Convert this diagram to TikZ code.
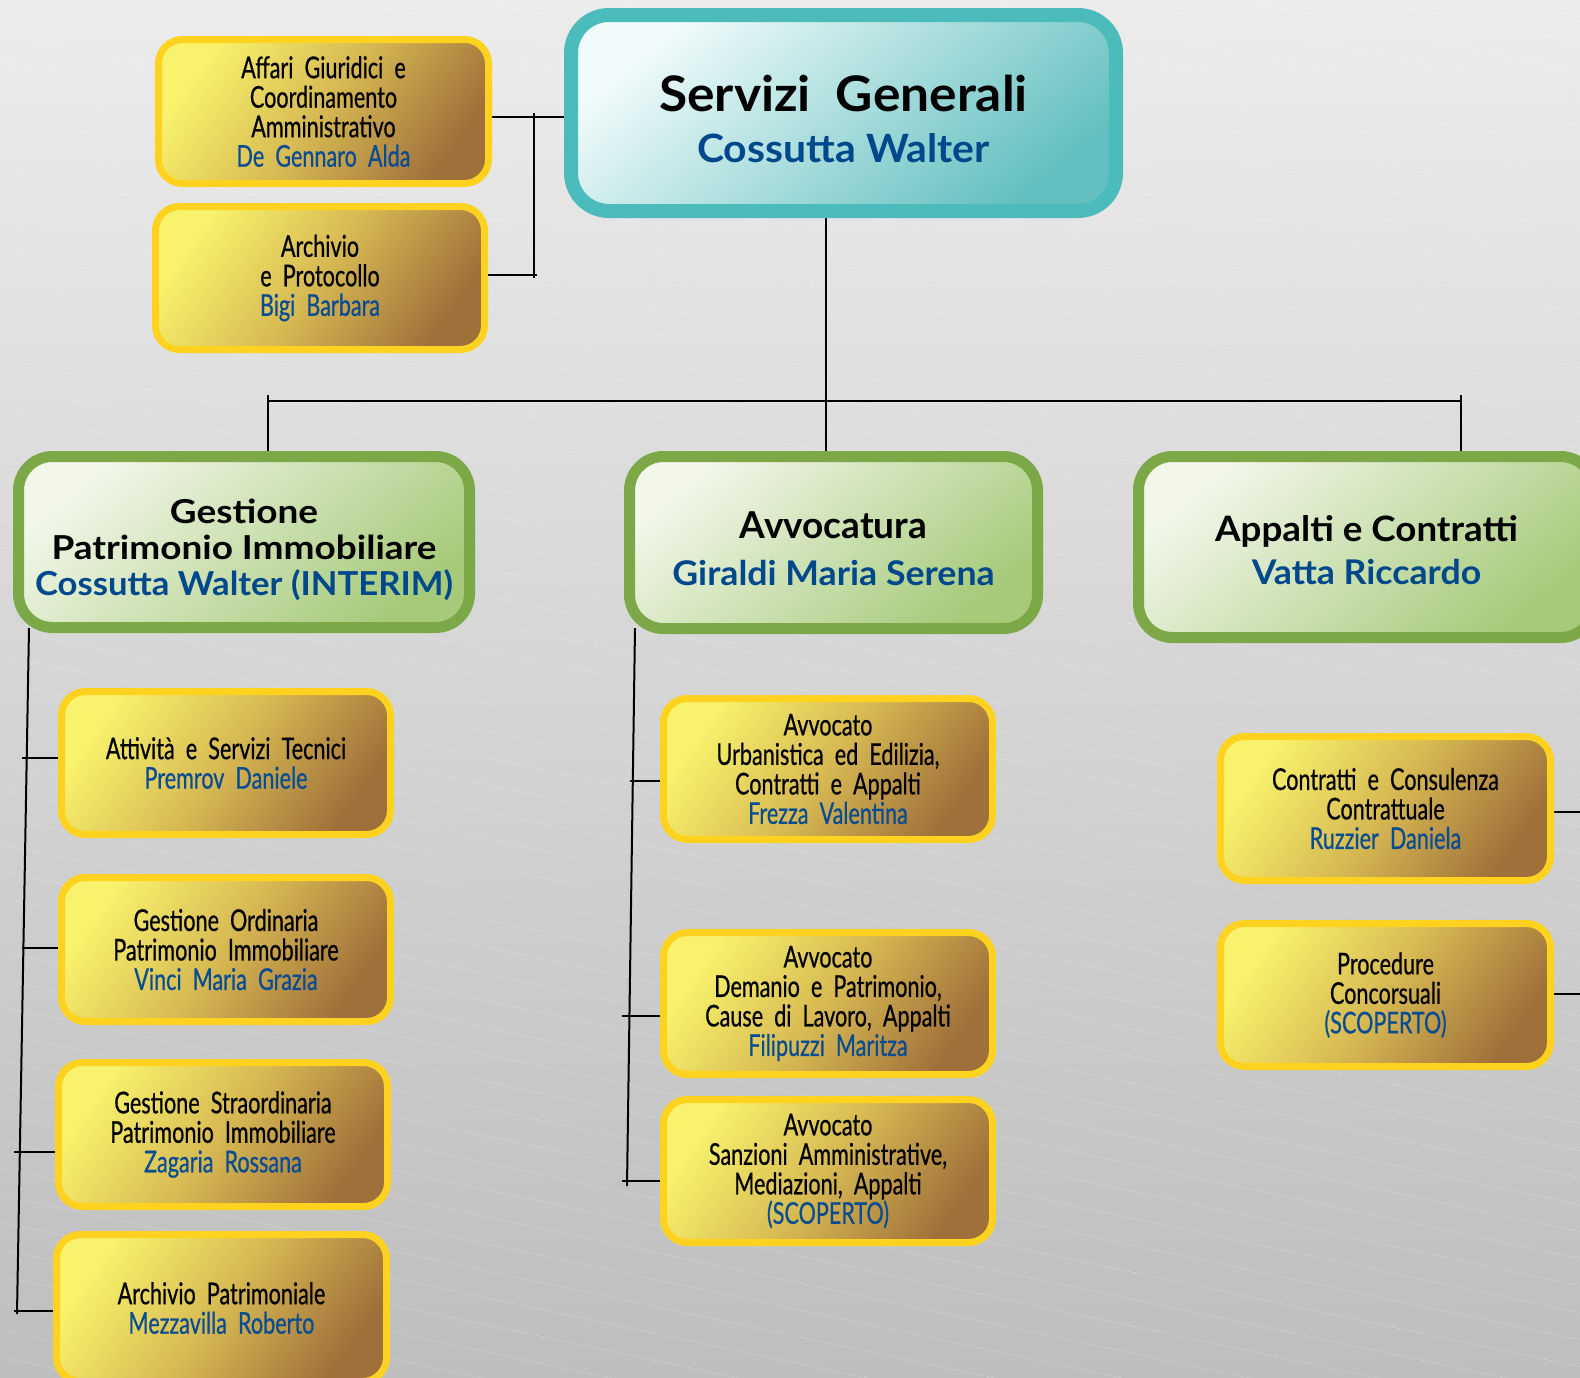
\documentclass[tikz,border=0pt]{standalone}
\usepackage{fontspec}
\setmainfont{Lato}
\newfontfamily\condf{Lato}[FakeStretch=0.72,WordSpace=2.0,FakeBold=0.6]
\newfontfamily\hdf{Lato}
\newfontfamily\hdn{Lato}[FakeStretch=1.05]
\newfontfamily\hdw{Lato}[FakeStretch=1.12]
\definecolor{bgTop}{RGB}{236,236,236}
\definecolor{bgBot}{RGB}{190,190,190}
\definecolor{tBord}{RGB}{75,187,187}
\definecolor{tA}{RGB}{242,251,251}
\definecolor{tB}{RGB}{100,192,192}
\definecolor{gBord}{RGB}{124,168,72}
\definecolor{gA}{RGB}{242,247,234}
\definecolor{gB}{RGB}{166,202,122}
\definecolor{yBord}{RGB}{255,210,32}
\definecolor{yA}{RGB}{248,242,108}
\definecolor{yM}{RGB}{214,184,82}
\definecolor{yB}{RGB}{160,112,58}
\definecolor{nblue}{RGB}{8,76,146}
\definecolor{hblue}{RGB}{0,72,140}
\newcommand\pname[1]{\textcolor{nblue}{#1}}
\newcommand\hname[1]{\textcolor{hblue}{#1}}
\newcommand\strt[1]{\rule{0pt}{#1}}
\pgfdeclarelayer{bgl}
\pgfdeclarelayer{lines}
\pgfsetlayers{bgl,lines,main}
\tikzset{
  ybox/.style={draw=yBord, line width=7pt, rounded corners=24pt,
    top color=yA, bottom color=yB, middle color=yM, shading angle=55,
    inner sep=0pt, minimum width=329pt, minimum height=143pt, align=center,
    font=\condf\fontsize{30}{29.5}\selectfont},
  gbox/.style={draw=gBord, line width=11pt, rounded corners=34pt,
    top color=gA, bottom color=gB, shading angle=40,
    inner sep=0pt, align=center},
  tbox/.style={draw=tBord, line width=14pt, rounded corners=38pt,
    top color=tA, bottom color=tB, shading angle=40,
    inner sep=0pt, align=center},
  conn/.style={line width=2pt, black},
  stripe/.style={white, opacity=0.28, line width=0.8pt, dash pattern=on 3pt off 2pt}
}
\begin{document}
\begin{tikzpicture}[x=1pt,y=-1pt]
\useasboundingbox (0,0) rectangle (1580,1377);
\clip (0,0) rectangle (1580,1377);
\begin{pgfonlayer}{bgl}
  \fill[top color=bgTop, bottom color=bgBot] (0,0) rectangle (1580,1377);
  \foreach \k in {0,...,80} {
    \draw[stripe] (-100,{\k*27-500}) -- (1700,{\k*27-500+380});
  }
\end{pgfonlayer}

% top
\node[tbox, minimum width=545pt, minimum height=196pt,
  font=\hdn\bfseries\fontsize{49}{51}\selectfont] (sg) at (843.5,113)
  {\strt{49pt}Servizi\ \ Generali\\
   {\fontsize{39}{51}\selectfont\hname{Cossutta Walter}}};

\node[ybox, minimum width=330pt, minimum height=144pt] (aff) at (323.5,111.5)
  {Affari Giuridici e\\Coordinamento\\Amministrativo\\\pname{De Gennaro Alda}};
\node[ybox, minimum width=329pt, minimum height=143pt] (arc) at (320,278)
  {Archivio\\e Protocollo\\\pname{Bigi Barbara}};

% green
\node[gbox, minimum width=451pt, minimum height=171pt,
  font=\hdw\bfseries\fontsize{33}{36}\selectfont] (gpi) at (244,542)
  {\strt{40pt}Gestione\\
   Patrimonio Immobiliare\\
   {\hdn\bfseries\fontsize{33}{36}\selectfont\hname{Cossutta Walter (INTERIM)}}};
\node[gbox, minimum width=408pt, minimum height=172pt,
  font=\hdf\bfseries\fontsize{37}{47}\selectfont] (avv) at (833.5,542.5)
  {\strt{38.5pt}Avvocatura\\
   {\hdn\bfseries\fontsize{34}{47}\selectfont\hname{Giraldi Maria Serena}}};
\node[gbox, minimum width=456pt, minimum height=181pt,
  font=\hdn\bfseries\fontsize{35}{43}\selectfont] (app) at (1366.5,547)
  {\strt{31.5pt}Appalti e Contratti\\
   {\fontsize{34}{43}\selectfont\hname{Vatta Riccardo}}};

% yellow left column
\node[ybox] (att) at (226,763)
  {Attività e Servizi Tecnici\\\pname{Premrov Daniele}};
\node[ybox, minimum height=144pt] (gor) at (226,949.5)
  {Gestione Ordinaria\\Patrimonio Immobiliare\\\pname{Vinci Maria Grazia}};
\node[ybox, minimum height=144pt] (gst) at (223,1134.5)
  {Gestione Straordinaria\\Patrimonio Immobiliare\\\pname{Zagaria Rossana}};
\node[ybox, minimum width=330pt, minimum height=147pt] (apa) at (221.5,1308)
  {Archivio Patrimoniale\\\pname{Mezzavilla Roberto}};

% yellow middle column
\node[ybox, minimum height=141pt] (av1) at (828,769)
  {Avvocato\\Urbanistica ed Edilizia,\\Contratti e Appalti\\\pname{Frezza Valentina}};
\node[ybox, minimum height=142pt] (av2) at (828,1003.5)
  {Avvocato\\Demanio e Patrimonio,\\Cause di Lavoro, Appalti\\\pname{Filipuzzi Maritza}};
\node[ybox] (av3) at (828,1171)
  {Avvocato\\Sanzioni Amministrative,\\Mediazioni, Appalti\\\pname{(SCOPERTO)}};

% yellow right column
\node[ybox, minimum width=330pt, minimum height=144pt] (cc) at (1385.5,808.5)
  {Contratti e Consulenza\\Contrattuale\\\pname{Ruzzier Daniela}};
\node[ybox, minimum width=330pt] (pc) at (1385.5,995)
  {Procedure\\Concorsuali\\\pname{(SCOPERTO)}};

% connectors
\coordinate (bL) at (268,401);
\coordinate (bM) at (826,401);
\coordinate (bR) at (1461,401);
\coordinate (jA) at (534,117);
\coordinate (jB) at (534,275);
\coordinate (gTop) at (29,628);
\coordinate (gBot) at (17,1314);
\coordinate (t1) at (22,758);
\coordinate (t2) at (22,948);
\coordinate (t3) at (14,1152);
\coordinate (t4) at (14,1311);
\coordinate (vTop) at (635,628);
\coordinate (vBot) at (627,1186);
\coordinate (u1) at (630,781);
\coordinate (u2) at (622,1016);
\coordinate (u3) at (622,1181);
\coordinate (r1) at (1582,812);
\coordinate (r2) at (1582,994);
\begin{pgfonlayer}{lines}
  \draw[conn] (sg.south -| bM) -- (bM);
  \draw[conn] (bL) -- (bR);
  \draw[conn] ([yshift=6pt]bL) -- (bL |- gpi.north);
  \draw[conn] (bM) -- (bM |- avv.north);
  \draw[conn] ([yshift=6pt]bR) -- (bR |- app.north);
  \draw[conn] (aff.east |- jA) -- (sg.west |- jA);
  \draw[conn] (arc.east |- jB) -- ([xshift=3pt]jB);
  \draw[conn] ([yshift=4pt]jA) -- ([yshift=-3pt]jB);
  \draw[conn] (gTop) -- (gBot);
  \draw[conn] (t1) -- (t1 -| att.west);
  \draw[conn] (t2) -- (t2 -| gor.west);
  \draw[conn] (t3) -- (t3 -| gst.west);
  \draw[conn] (t4) -- (t4 -| apa.west);
  \draw[conn] (vTop) -- (vBot);
  \draw[conn] (u1) -- (u1 -| av1.west);
  \draw[conn] (u2) -- (u2 -| av2.west);
  \draw[conn] (u3) -- (u3 -| av3.west);
  \draw[conn] (cc.east |- r1) -- (r1);
  \draw[conn] (pc.east |- r2) -- (r2);
\end{pgfonlayer}
\end{tikzpicture}
\end{document}
